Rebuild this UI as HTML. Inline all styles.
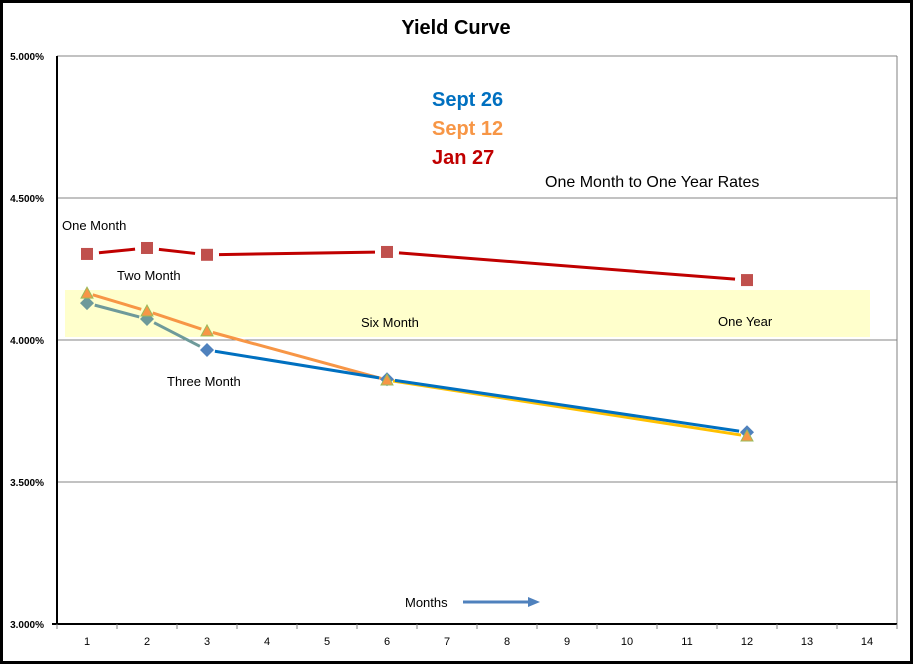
<!DOCTYPE html>
<html><head><meta charset="utf-8"><style>
body{margin:0;background:#fff;font-family:"Liberation Sans",Arial,sans-serif}
</style></head><body>
<svg width="913" height="664" viewBox="0 0 913 664" xmlns="http://www.w3.org/2000/svg">
<rect x="1.5" y="1.5" width="910" height="661" fill="#fff" stroke="#000" stroke-width="3"/>
<text x="456" y="34" text-anchor="middle" font-size="20" font-weight="bold" font-family="Liberation Sans, sans-serif">Yield Curve</text>
<g id="grid"></g>
<rect x="65" y="290" width="805" height="47" fill="#FFFFCC"/>
<g id="axes"></g>
<g id="series"></g>
<g font-family="Liberation Sans, sans-serif" font-weight="bold" font-size="20">
<text x="432" y="106" fill="#0070C0">Sept 26</text>
<text x="432" y="135" fill="#F79646">Sept 12</text>
<text x="432" y="164" fill="#C00000">Jan 27</text>
</g>
<g font-family="Liberation Sans, sans-serif" font-size="13" fill="#000">
<text x="545" y="187" font-size="16">One Month to One Year Rates</text>
<text x="62" y="230">One Month</text>
<text x="117" y="280">Two Month</text>
<text x="361" y="327">Six Month</text>
<text x="718" y="326">One Year</text>
<text x="167" y="386">Three Month</text>
<text x="405" y="607">Months</text>
</g>
<line x1="463" y1="602" x2="530" y2="602" stroke="#4F81BD" stroke-width="3"/>
<polygon points="528,597 540,602 528,607" fill="#4F81BD"/>
</svg>
<script>
const categories=[1,2,3,4,5,6,7,8,9,10,11,12,13,14];
const yTicks=[3.0,3.5,4.0,4.5,5.0];
const yTickLabels=["3.000%","3.500%","4.000%","4.500%","5.000%"];
const months=[1,2,3,6,12];
const jan27=[4.303,4.324,4.300,4.310,4.211];
const sept12=[4.165,4.102,4.032,3.859,3.662];
const sept26=[4.130,4.074,3.965,3.862,3.675];
const NS="http://www.w3.org/2000/svg";
const X0=57,X1=897,Y0=624,Y1=56;
const xs=m=>X0+(m-0.5)*(X1-X0)/14;
const ys=v=>Y0-(v-3)*(Y0-Y1)/2;
function mk(tag,a,parent){const e=document.createElementNS(NS,tag);for(const k in a)e.setAttribute(k,a[k]);document.getElementById(parent).appendChild(e);return e;}
yTicks.forEach((t,i)=>{
 if(i>0){const g=mk('line',{x1:X0,x2:X1,y1:ys(t),y2:ys(t),stroke:'#868686','stroke-width':1},'grid');
 
 }
 const l=mk('text',{x:44,y:ys(t)+4,'text-anchor':'end','font-size':10,'font-weight':'bold','font-family':'Liberation Sans, sans-serif'},'axes');
 l.textContent=yTickLabels[i];
 
 
});
const r=mk('line',{x1:X1,x2:X1,y1:Y1,y2:Y0,stroke:'#808080'},'axes');


const ya=mk('line',{x1:X0,x2:X0,y1:Y1,y2:Y0+1,stroke:'#000','stroke-width':2},'axes');


const xa=mk('line',{x1:X0-5,x2:X1,y1:Y0,y2:Y0,stroke:'#000','stroke-width':2},'axes');


for(let i=0;i<=14;i++){const x=X0+i*(X1-X0)/14;const t=mk('line',{x1:x,x2:x,y1:Y0,y2:Y0+5,stroke:'#808080'},'axes');
 
 }
categories.forEach(c=>{const t=mk('text',{x:xs(c),y:645,'text-anchor':'middle','font-size':11,'font-family':'Liberation Sans, sans-serif'},'axes');t.textContent=c;
 
 });
function seg(vals,colors,gap,w,name){
 for(let i=0;i<vals.length-1;i++){
  let x1=xs(months[i]),y1=ys(vals[i]),x2=xs(months[i+1]),y2=ys(vals[i+1]);
  const dx=x2-x1,dy=y2-y1,L=Math.hypot(dx,dy);
  const l=mk('line',{x1:x1+dx/L*gap,y1:y1+dy/L*gap,x2:x2-dx/L*gap,y2:y2-dy/L*gap,stroke:colors[i],'stroke-width':w},'series');
  
  
 }
}
seg(jan27,['#C00000','#C00000','#C00000','#C00000'],12,3,'jan-27');
seg(sept12,['#F79646','#F79646','#F79646','#FFC000'],6,3,'sept-12');
seg(sept26,['#6E9A9A','#6E9A9A','#0070C0','#0070C0'],8,3,'sept-26');
jan27.forEach((v,i)=>{const x=xs(months[i]),y=ys(v);const m=mk('rect',{x:x-6,y:y-6,width:12,height:12,fill:'#C0504D'},'series');
 
 });
sept26.forEach((v,i)=>{const x=xs(months[i]),y=ys(v);const m=mk('polygon',{points:`${x},${y-7} ${x+7},${y} ${x},${y+7} ${x-7},${y}`,fill:i<2?'#6E9A9A':'#4F81BD'},'series');
 
 });
sept12.forEach((v,i)=>{const x=xs(months[i]),y=ys(v);const m=mk('polygon',{points:`${x},${y-6} ${x+6},${y+5} ${x-6},${y+5}`,fill:'#F79646',stroke:'#9BBB59','stroke-width':1},'series');
 
 });
</script>
</body></html>
